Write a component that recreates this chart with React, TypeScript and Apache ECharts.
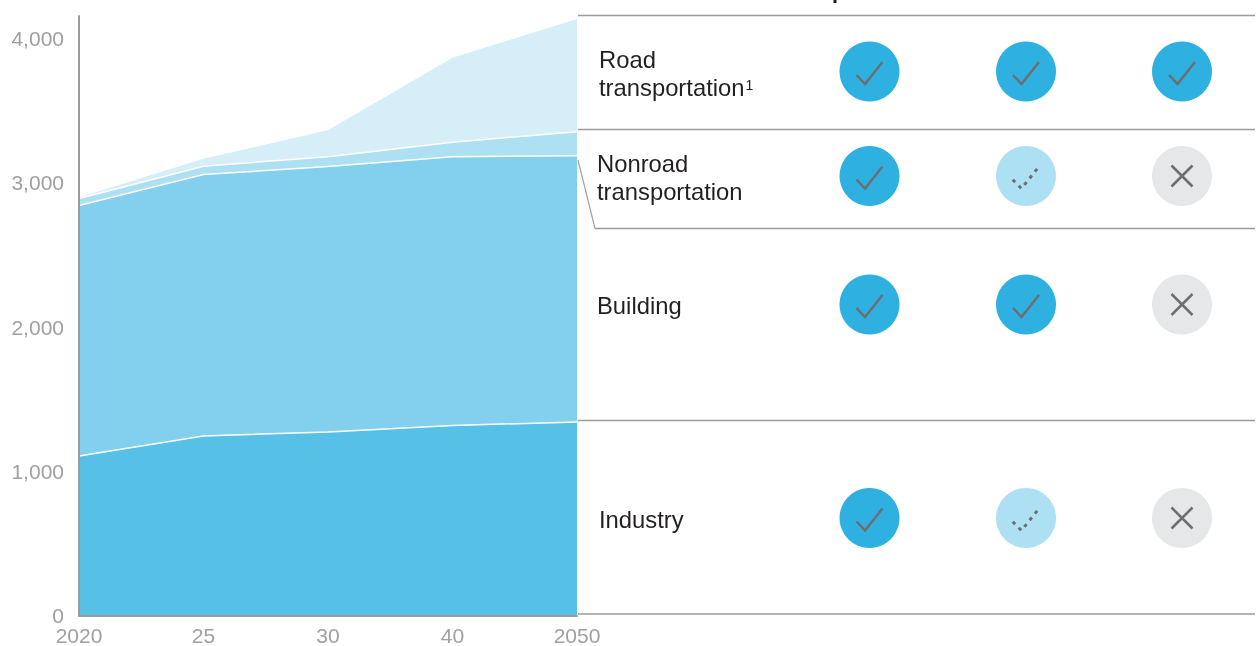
import React, { useEffect, useRef } from "react";
import * as echarts from "echarts";

const years = ["2020", "25", "30", "40", "2050"];
const yTicks = [0, 1000, 2000, 3000, 4000];
const industry = [1106, 1245, 1272, 1317, 1342];
const building = [1736, 1812, 1840, 1864, 1846];
const nonroad = [49, 58, 69, 100, 166];
const road = [7, 52, 183, 585, 782];

const rowLabels = [
  { lines: ["Road", "transportation"], x: 599, y: [59.5, 87.5], marks: ["full", "full", "full"], cy: 71.5 },
  { lines: ["Nonroad", "transportation"], x: 597, y: [163.5, 191.5], marks: ["full", "part", "none"], cy: 176 },
  { lines: ["Building"], x: 597, y: [305.5], marks: ["full", "full", "none"], cy: 304.5 },
  { lines: ["Industry"], x: 599, y: [519.5], marks: ["full", "part", "none"], cy: 518 },
];
const colX = [869.5, 1026, 1182];
const dividers = [
  [578, 15.5],
  [578, 129.5],
  [595, 228.5],
  [578, 420.5],
  [578, 614],
];

const FONT = '"Liberation Sans", Arial, sans-serif';
const RULE = "#9b9b9e";
const INK = "#6d6e71";

function markElements(kind: string, cx: number, cy: number) {
  const fill = kind === "full" ? "#2eb1e1" : kind === "part" ? "#ade0f3" : "#e6e7e9";
  const els: any[] = [{ type: "circle", shape: { cx, cy, r: 30 }, style: { fill } }];
  if (kind === "none") {
    const d = 10.5;
    els.push({ type: "line", shape: { x1: cx - d, y1: cy - d, x2: cx + d, y2: cy + d }, style: { stroke: INK, lineWidth: 2.5 } });
    els.push({ type: "line", shape: { x1: cx - d, y1: cy + d, x2: cx + d, y2: cy - d }, style: { stroke: INK, lineWidth: 2.5 } });
  } else if (kind === "part") {
    els.push({
      type: "polyline",
      shape: { points: [[cx - 14, cy + 3], [cx - 4.5, cy + 12.5], [cx + 13, cy - 9.5]] },
      style: { stroke: INK, lineWidth: 3, fill: "none", lineDash: [3.5, 5], lineDashOffset: -1 },
    });
  } else {
    els.push({
      type: "polyline",
      shape: { points: [[cx - 13, cy + 3.5], [cx - 4.5, cy + 12.5], [cx + 13, cy - 9.5]] },
      style: { stroke: INK, lineWidth: 2.5, fill: "none" },
    });
  }
  return els;
}

function buildGraphics() {
  const els: any[] = [];
  dividers.forEach(([x, y]) => {
    els.push({ type: "line", shape: { x1: x, y1: y, x2: 1255, y2: y }, style: { stroke: RULE, lineWidth: 1.3 } });
  });
  els.push({ type: "line", shape: { x1: 578, y1: 160, x2: 595, y2: 228.5 }, style: { stroke: RULE, lineWidth: 1.1 } });
  rowLabels.forEach((row) => {
    row.lines.forEach((t, i) => {
      els.push({
        type: "text",
        x: row.x,
        y: row.y[i],
        style: { text: t, fill: "#231f20", font: `23.8px ${FONT}`, verticalAlign: "middle" },
      });
    });
    row.marks.forEach((m, i) => els.push(...markElements(m, colX[i], row.cy)));
  });
  els.push({
    type: "text",
    x: 745.5,
    y: 85,
    style: { text: "1", fill: "#231f20", font: `14px ${FONT}`, verticalAlign: "middle" },
  });
  // Only the tip of a cropped title glyph reaches into the frame of the reference.
  els.push({ type: "rect", shape: { x: 833.5, y: 0, width: 3, height: 3 }, style: { fill: "#231f20" } });
  return els;
}

function areaSeries(name: string, data: number[], color: string, edge: boolean) {
  return {
    name,
    type: "line",
    stack: "total",
    data,
    symbol: "none",
    smooth: false,
    areaStyle: { color, opacity: 1 },
    lineStyle: edge ? { color: "#ffffff", width: 1.5 } : { width: 0, opacity: 0 },
    z: 2,
  };
}

export default function App() {
  const ref = useRef<HTMLDivElement>(null);
  useEffect(() => {
    const chart = echarts.init(ref.current!, undefined, { renderer: "svg" });
    chart.setOption({
      animation: false,
      grid: { left: 79, right: 682, top: 16, bottom: 29, containLabel: false },
      xAxis: {
        type: "category",
        boundaryGap: false,
        data: years,
        z: 5,
        axisLine: { lineStyle: { color: RULE, width: 2 } },
        axisTick: { show: false },
        axisLabel: { color: "#a0a0a3", fontSize: 21, lineHeight: 16, fontFamily: FONT, margin: 12, interval: 0 },
      },
      yAxis: {
        type: "value",
        min: 0,
        max: 4156,
        interval: 1000,
        z: 5,
        axisLine: { show: true, lineStyle: { color: RULE, width: 2 } },
        axisTick: { show: false },
        splitLine: { show: false },
        axisLabel: {
          color: "#a0a0a3",
          fontSize: 21,
          lineHeight: 14,
          fontFamily: FONT,
          margin: 15,
          showMaxLabel: false,
          formatter: (v: number) => (yTicks.includes(v) ? v.toLocaleString("en-US") : ""),
        },
      },
      series: [
        areaSeries("Industry", industry, "#56c0e7", true),
        areaSeries("Building", building, "#82d0ee", true),
        areaSeries("Nonroad transportation", nonroad, "#ade0f3", true),
        areaSeries("Road transportation", road, "#d6eef8", false),
      ],
      graphic: { elements: buildGraphics() },
    });
    return () => chart.dispose();
  }, []);
  return <div ref={ref} style={{ position: "fixed", left: 0, top: 0, width: 1259, height: 646 }} />;
}
